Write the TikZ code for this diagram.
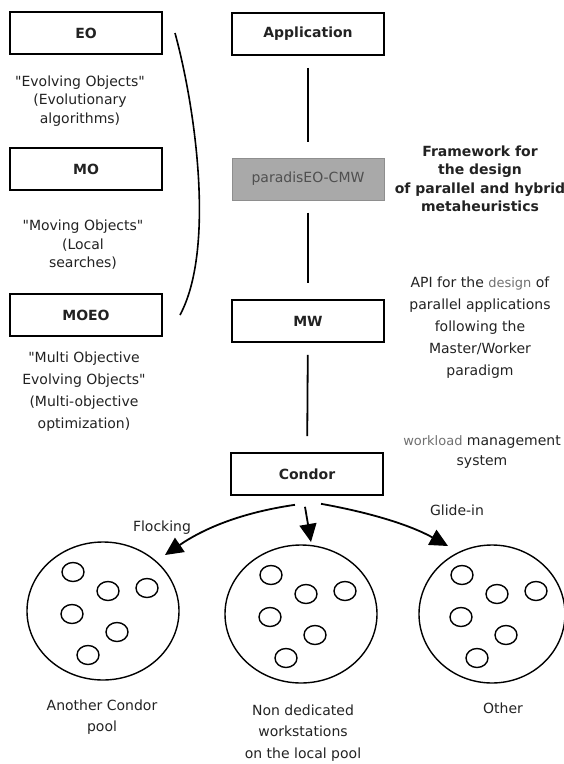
\documentclass[tikz,border=0pt]{standalone}
\usepackage{fontspec}
\setmainfont{DejaVu Sans}
\usetikzlibrary{positioning,arrows.meta,calc,shapes.geometric}
\definecolor{ink}{HTML}{222222}
\definecolor{softink}{HTML}{707070}
\definecolor{cmwfill}{HTML}{A9A9A9}
\definecolor{cmwline}{HTML}{8E8E8E}
\definecolor{cmwtext}{HTML}{4F4F4F}
\newcommand{\tightfont}{\fontsize{14}{18.5}\selectfont}
\newcommand{\loosefont}{\fontsize{14}{22}\selectfont}

\tikzset{
  layer/.style={draw=black, line width=1.6pt, minimum width=152, minimum height=42, inner sep=0pt, font=\tightfont\bfseries, text=ink},
  note/.style={align=center, text=ink, inner sep=0pt},
  link/.style={line width=1.8pt, shorten <=12, shorten >=16},
  flow/.style={line width=1.8pt, -{Triangle[length=18pt,width=17pt]}},
  pool/.style={ellipse, draw, line width=1.4pt, minimum width=152, minimum height=138, inner sep=0pt},
  host/.style={line width=1.4pt}
}

\begin{document}
\begin{tikzpicture}[x=1pt,y=-1pt,font=\tightfont]
\useasboundingbox (0,0) rectangle (564,764);

% library boxes on the left
\node[layer] (eo) at (86,33) {EO};
\node[note, font=\tightfont] (eotext) at (80,101) {\textquotedbl Evolving Objects\textquotedbl\\(Evolutionary\\algorithms)};
\node[layer] (mo) at (86,169) {MO};
\node[note, font=\tightfont] (motext) at (83,245) {\textquotedbl Moving Objects\textquotedbl\\(Local\\searches)};
\node[layer] (moeo) at (86,315) {MOEO};
\node[note, font=\loosefont] (moeotext) at (84,392) {\textquotedbl Multi Objective\\Evolving Objects\textquotedbl\\(Multi-objective\\optimization)};
\draw[line width=1.6pt] (175,33) .. controls (196,110) and (215,250) .. (180,315);

% software stack
\node[layer] (app) at (308,34) {Application};
\node[layer, fill=cmwfill, draw=cmwline, line width=1pt, font=\tightfont, text=cmwtext] (cmw) at (308,179) {paradisEO-CMW};
\node[layer] (mw) at (308,321) {MW};
\node[layer] (condor) at (307,474) {Condor};
\draw[link] (app) -- (cmw);
\draw[link] (cmw) -- (mw);
\draw[link] (mw) -- (condor);

\node[note, font=\tightfont\bfseries] (cmwtext) at (480,179) {Framework for\\the design\\of parallel and hybrid\\metaheuristics};
\node[note, font=\loosefont] (mwtext) at (480,328) {API for the {\color{softink}\fontsize{13}{22}\selectfont design} of\\parallel applications\\following the\\Master/Worker\\paradigm};
\node[note, font=\fontsize{14}{20}\selectfont] (condortext) at (482,452) {{\color{softink}\fontsize{13}{20}\selectfont workload} management\\system};

% pools of workstations
\node[pool] (pool1) at (103,611) {};
\node[pool] (pool2) at (301,614) {};
\node[pool, minimum width=146] (pool3) at (492,614) {};
\foreach \pool in {pool1,pool2,pool3}
  \foreach \dx/\dy in {-30/-39, 5/-20, 44/-23, -31/3, 14/21, -15/44}
    \draw[host] ($(\pool)+(\dx,\dy)$) ellipse [x radius=11, y radius=9.5];

\draw[flow] ($(condor.south)+(-12,9)$) .. controls +(-55,8) and +(38,-26) .. ($(pool1)+(62,-56)$);
\draw[flow] ($(condor.south)+(-2,11)$) -- ($(pool2)+(10,-72)$);
\draw[flow] ($(condor.south)+(14,8)$) .. controls +(50,9) and +(-38,-21) .. ($(pool3)+(-44,-68)$);

\node[note] (flocking) at (162,528) {Flocking};
\node[note] (glidein) at (457,510) {Glide-in};
\node[note, font=\fontsize{14}{21}\selectfont] (pool1text) at (102,717) {Another Condor\\pool};
\node[note, font=\fontsize{14}{21.5}\selectfont] (pool2text) at (303,733) {Non dedicated\\workstations\\on the local pool};
\node[note] (pool3text) at (503,708) {Other};
\end{tikzpicture}
\end{document}
